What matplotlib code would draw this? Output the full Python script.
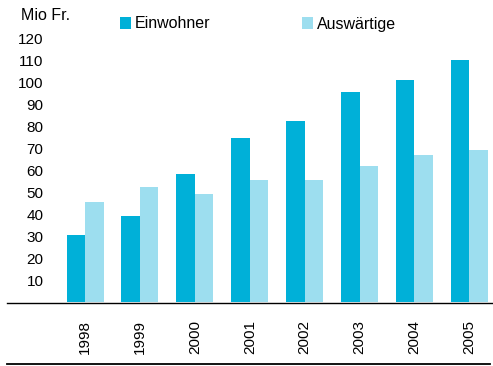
import matplotlib
matplotlib.use("Agg")
import matplotlib.pyplot as plt
from matplotlib.patches import Patch
from matplotlib.lines import Line2D
import numpy as np

plt.rcParams['font.family'] = ['Liberation Sans', 'DejaVu Sans']

years = ['1998', '1999', '2000', '2001', '2002', '2003', '2004', '2005']
einwohner = [30.5, 39, 58, 74.5, 82.3, 95.5, 101, 110]
auswaertige = [45.5, 52.3, 49, 55.5, 55.5, 61.8, 66.8, 69]
series_names = ['Einwohner', 'Auswärtige']
colors = ['#00B0D8', '#9DDEEF']
ytick_vals = [10, 20, 30, 40, 50, 60, 70, 80, 90, 100, 110, 120]

W, H = 493, 366
fig = plt.figure(figsize=(W / 100, H / 100), dpi=100)
ax = fig.add_axes([45 / W, (H - 302) / H, 448 / W, 275 / H])

x = np.arange(len(years))
bw = 0.337
ax.bar(x - bw / 2, einwohner, width=bw, color=colors[0], linewidth=0)
ax.bar(x + bw / 2, auswaertige, width=bw, color=colors[1], linewidth=0)

ax.set_xlim(-0.729, 7.43)
ax.set_ylim(0, 125)
for s in ax.spines.values():
    s.set_visible(False)

ax.set_yticks(ytick_vals)
ax.set_yticklabels([str(v) for v in ytick_vals], fontsize=11)
ax.tick_params(axis='y', length=0, pad=1)
ax.set_xticks(x)
ax.set_xticklabels(years, rotation=90, fontsize=11)
ax.tick_params(axis='x', length=0, pad=13)

# zero line and bottom line spanning figure width
fig.add_artist(Line2D([7 / W, 1.0], [(H - 302.5) / H] * 2, color='black', lw=1.0,
                      transform=fig.transFigure))
fig.add_artist(Line2D([7 / W, 490 / W], [(H - 364) / H] * 2, color='black', lw=1.3,
                      transform=fig.transFigure))

fig.text(21 / W, (H - 15) / H, 'Mio Fr.', fontsize=11.5, ha='left', va='center')

handles = [Patch(facecolor=c, edgecolor='none') for c in colors]
fig.legend(handles, series_names, loc='center left',
           bbox_to_anchor=(120 / W, (H - 24) / H), ncol=2, frameon=False,
           fontsize=11.5, handlelength=0.7, handleheight=0.7, handletextpad=0.25,
           columnspacing=5.7, borderpad=0, borderaxespad=0)

fig.savefig('out.png', dpi=100)
